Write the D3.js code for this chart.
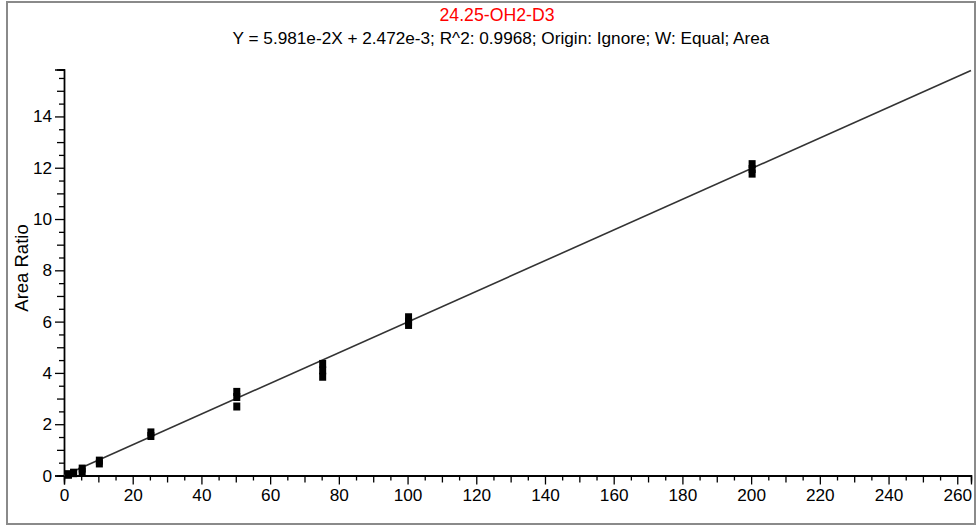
<!DOCTYPE html>
<html>
<head>
<meta charset="utf-8">
<script src="https://cdn.jsdelivr.net/npm/d3@7"></script>
<style>
  html, body { margin: 0; padding: 0; background: #fff; }
  svg { display: block; }
  text { font-family: "Liberation Sans", Arial, sans-serif; }
</style>
</head>
<body>
<svg id="chart" width="979" height="529"></svg>
<script>
// ---- data ----
const chartTitle = "24.25-OH2-D3";
const fitText = "Y = 5.981e-2X + 2.472e-3; R^2: 0.9968; Origin: Ignore; W: Equal; Area";
const yAxisTitle = "Area Ratio";
const concentration = [1, 1, 2.5, 2.5, 5, 5, 10, 10, 25, 25, 50, 50, 50, 75, 75, 75, 100, 100, 100, 200, 200, 200];
const areaRatio     = [0.03, 0.05, 0.09, 0.11, 0.16, 0.27, 0.47, 0.58, 1.54, 1.68, 3.26, 3.06, 2.69, 4.35, 4.10, 3.85, 6.17, 6.00, 5.87, 12.14, 11.95, 11.77];
const fitSlope = 0.05981;
const fitIntercept = 0.002472;
const xTickLabels = [0, 20, 40, 60, 80, 100, 120, 140, 160, 180, 200, 220, 240, 260];
const yTickLabels = [0, 2, 4, 6, 8, 10, 12, 14];
const xDomain = [0, 264];
const yDomain = [0, 15.83];

// ---- layout ----
const svg = d3.select("#chart");
const plotLeft = 64, plotRight = 971, plotTop = 69.5, plotBottom = 475.5;
const x = d3.scaleLinear().domain(xDomain).range([plotLeft, plotRight]);
const y = d3.scaleLinear().domain(yDomain).range([plotBottom, plotTop]);

// frame
svg.append("rect").attr("x", 7).attr("y", 2).attr("width", 968).attr("height", 522)
  .attr("fill", "#fff").attr("stroke", "#8a8a8a").attr("stroke-width", 2);

// titles
svg.append("text").attr("x", 497).attr("y", 21).attr("text-anchor", "middle")
  .attr("font-size", 17.7).attr("fill", "#ff0000").text(chartTitle);
svg.append("text").attr("x", 501).attr("y", 43.5).attr("text-anchor", "middle")
  .attr("font-size", 17.2).attr("fill", "#000").text(fitText);

// y axis title
svg.append("text").attr("transform", "translate(28,268) rotate(-90)")
  .attr("text-anchor", "middle").attr("font-size", 18.5).attr("fill", "#000").text(yAxisTitle);

function styleAxis(g) {
  g.select(".domain").attr("stroke", "#000").attr("stroke-width", 1.3);
  g.selectAll(".tick line").attr("stroke", "#000").attr("stroke-width", 1.3);
  g.selectAll(".tick text").attr("font-size", 17.2).attr("fill", "#000")
    .attr("font-family", "'Liberation Sans', Arial, sans-serif");
}

// minor ticks x
const xMinor = d3.range(5, 265, 10);
const xMid = d3.range(10, 265, 20);
svg.append("g").attr("transform", `translate(0,${plotBottom})`)
  .call(d3.axisBottom(x).tickValues(xMinor).tickSize(5).tickFormat(""))
  .call(styleAxis);
svg.append("g").attr("transform", `translate(0,${plotBottom})`)
  .call(d3.axisBottom(x).tickValues(xMid).tickSize(7).tickFormat(""))
  .call(styleAxis);
svg.append("g").attr("transform", `translate(0,${plotBottom})`)
  .call(d3.axisBottom(x).tickValues(xTickLabels).tickSize(9).tickPadding(4).tickFormat(d3.format("d")))
  .call(styleAxis);

// minor ticks y
const yMinor = d3.range(0.5, 15.8, 1);
const yMid = d3.range(1, 15.8, 2);
svg.append("g").attr("transform", `translate(${plotLeft},0)`)
  .call(d3.axisLeft(y).tickValues(yMinor).tickSize(5).tickFormat(""))
  .call(styleAxis);
svg.append("g").attr("transform", `translate(${plotLeft},0)`)
  .call(d3.axisLeft(y).tickValues(yMid).tickSize(7).tickFormat(""))
  .call(styleAxis);
svg.append("g").attr("transform", `translate(${plotLeft},0)`)
  .call(d3.axisLeft(y).tickValues(yTickLabels).tickSize(9).tickPadding(3).tickFormat(d3.format("d")))
  .call(styleAxis);

// fit line
const fitLine = d3.line().x(d => x(d)).y(d => y(fitSlope * d + fitIntercept));
svg.append("path").datum(xDomain).attr("d", fitLine)
  .attr("fill", "none").attr("stroke", "#333").attr("stroke-width", 1.6);

// points
const pts = concentration.map((c, i) => ({ c, r: areaRatio[i] }));
svg.append("g").selectAll("rect").data(pts).join("rect")
  .attr("x", d => x(d.c) - 2.5).attr("y", d => y(d.r) - 4)
  .attr("width", 7).attr("height", 8).attr("fill", "#000");
</script>
</body>
</html>
